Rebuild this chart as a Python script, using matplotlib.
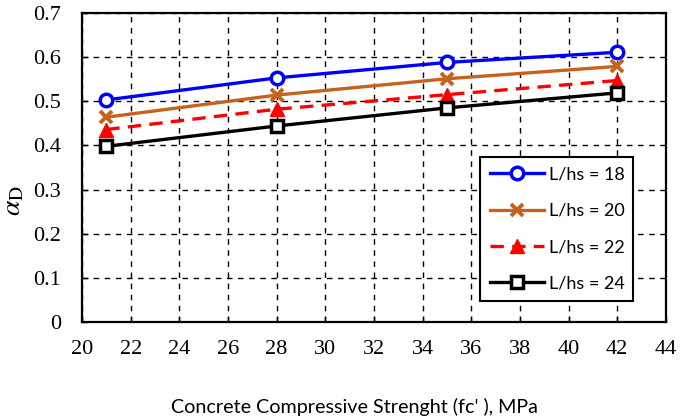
import matplotlib.pyplot as plt

plt.rcParams['mathtext.fontset'] = 'stix'
plt.rcParams['font.family'] = 'Liberation Serif'

fc = [21, 28, 35, 42]
ls18 = [0.503, 0.553, 0.588, 0.611]
ls20 = [0.464, 0.514, 0.551, 0.579]
ls22 = [0.436, 0.482, 0.515, 0.547]
ls24 = [0.398, 0.444, 0.485, 0.519]

x_ticks = list(range(20, 45, 2))
y_ticks = [0, 0.1, 0.2, 0.3, 0.4, 0.5, 0.6, 0.7]

fig = plt.figure(figsize=(6.85, 4.19), dpi=100)
ax = fig.add_axes([0.1197, 0.2315, 0.8523, 0.7375])

ax.plot(fc, ls18, color='#0000FF', lw=2.4, marker='o', ms=9, mfc='white', mew=2.5, label='L/hs = 18')
ax.plot(fc, ls20, color='#C5621F', lw=2.4, marker='x', ms=9, mew=2.8, label='L/hs = 20')
ax.plot(fc, ls22, color='#FF0000', lw=2.4, ls=(0, (4, 2.5)), marker='^', ms=10, label='L/hs = 22')
ax.plot(fc, ls24, color='black', lw=2.4, marker='s', ms=9, mfc='white', mew=2.5, label='L/hs = 24')

ax.set_xlim(20, 44)
ax.set_ylim(0, 0.7)
ax.set_xticks(x_ticks)
ax.set_yticks(y_ticks)
ax.set_yticklabels(['0', '0.1', '0.2', '0.3', '0.4', '0.5', '0.6', '0.7'])
ax.grid(True, color='black', ls=(0, (4, 4)), lw=1)
ax.set_axisbelow(True)
ax.tick_params(axis='both', direction='in', length=4, width=1, labelsize=16)
ax.tick_params(axis='x', pad=13)
ax.tick_params(axis='y', pad=15)
for s in ax.spines.values():
    s.set_linewidth(1.6)

ax.set_xlabel("Concrete Compressive Strenght (fc' ), MPa", fontfamily='Lato', fontsize=14.2)
ax.xaxis.set_label_coords(0.466, -0.245)
# y label placed as figure text so it sits low, like the original
fig.text(14 / 685, 1 - 201 / 419, r'$\alpha_\mathrm{D}$', fontsize=20, rotation=90,
         ha='center', va='center')

leg = ax.legend(loc='upper left', bbox_to_anchor=(0.6815, 0.07, 0.262, 0.465), mode='expand',
                prop={'family': 'Lato', 'size': 13},
                fancybox=False, edgecolor='black', framealpha=1, handlelength=3.0,
                labelspacing=1.12, borderpad=0.55, borderaxespad=0, handletextpad=0.3)
leg.get_frame().set_linewidth(1.5)

fig.savefig('out.png', dpi=100)
